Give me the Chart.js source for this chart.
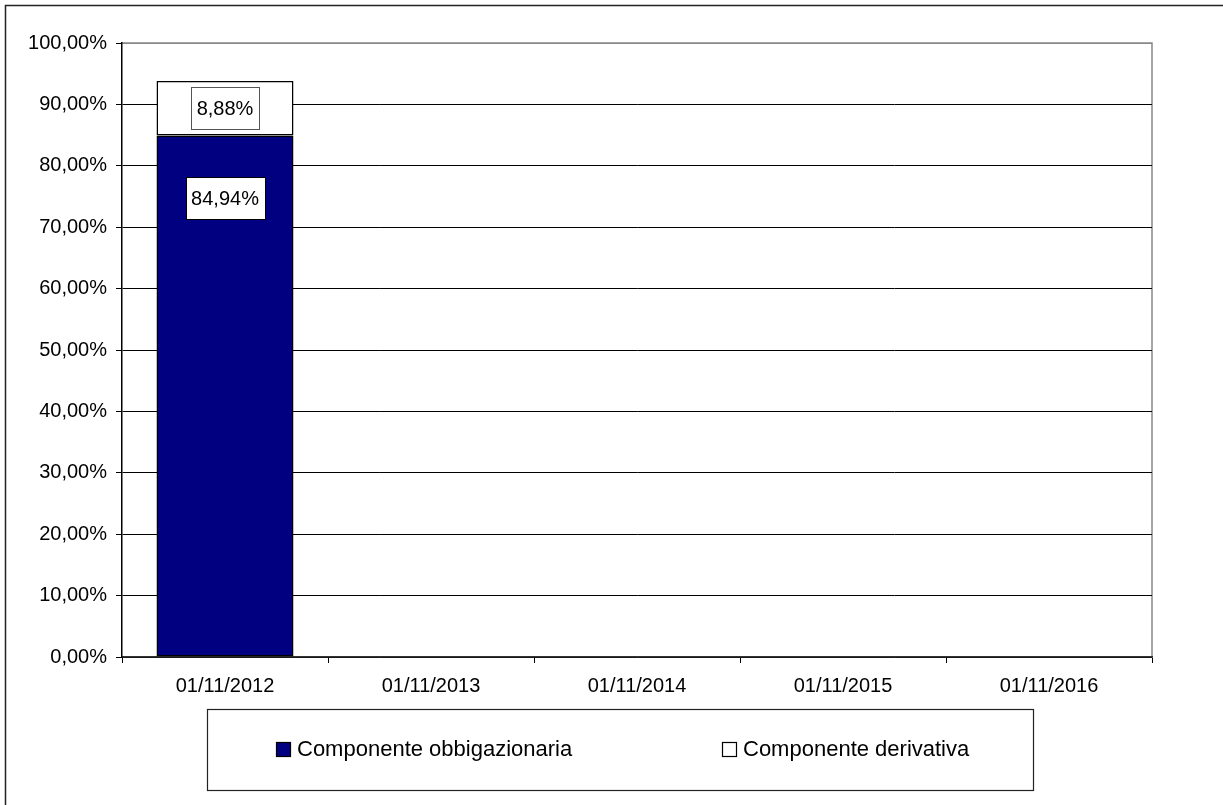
<!DOCTYPE html>
<html><head><meta charset="utf-8">
<script src="https://cdn.jsdelivr.net/npm/chart.js@4/dist/chart.umd.min.js"></script>
<style>html,body{margin:0;padding:0;background:#fff;}#wrap{width:1223px;height:805px;}</style>
</head><body><div id="wrap"><canvas id="c" width="1223" height="805"></canvas></div>
<script>
const categories = ['01/11/2012','01/11/2013','01/11/2014','01/11/2015','01/11/2016'];
const obbligazionaria = [84.94, null, null, null, null];
const derivativa = [8.88, null, null, null, null];
const seriesNames = ['Componente obbigazionaria','Componente derivativa'];
const FONT = '"Liberation Sans", Arial, sans-serif';

function fmt(v){ return v.toFixed(2).replace('.', ',') + '%'; }

const decor = {
  id:'decor',
  beforeDraw(chart){
    const ctx = chart.ctx;
    ctx.save();
    ctx.fillStyle='#fff'; ctx.fillRect(0,0,chart.width,chart.height);
    ctx.strokeStyle='#222'; ctx.lineWidth=1.5;
    ctx.beginPath(); ctx.moveTo(5.5,chart.height); ctx.lineTo(5.5,5.5); ctx.lineTo(chart.width,5.5); ctx.stroke();
    const a = chart.chartArea;
    ctx.strokeStyle='#888'; ctx.lineWidth=1.5;
    ctx.beginPath(); ctx.moveTo(a.left,a.top); ctx.lineTo(a.right,a.top); ctx.lineTo(a.right,a.bottom); ctx.stroke();
    ctx.restore();
  },
  afterDraw(chart){
    const ctx = chart.ctx;
    ctx.save();
    ctx.font = '20px ' + FONT;
    ctx.textBaseline='middle'; ctx.textAlign='center';
    chart.data.datasets.forEach((ds,di)=>{
      const meta = chart.getDatasetMeta(di);
      meta.data.forEach((bar,i)=>{
        const v = ds.data[i];
        if (v==null) return;
        let y;
        if (di===1) y = (bar.y + bar.base)/2;
        else y = bar.y + 63;
        const t = fmt(v);
        const w = Math.round(ctx.measureText(t).width + 11), h = 42;
        const x0 = Math.round(bar.x - w/2), y0 = Math.round(y - h/2);
        ctx.fillStyle='#fff'; ctx.fillRect(x0, y0, w, h);
        ctx.strokeStyle = di===1 ? '#555' : '#000'; ctx.lineWidth=1;
        ctx.strokeRect(x0+0.5, y0+0.5, w, h);
        ctx.fillStyle='#000'; ctx.fillText(t, bar.x, y+1);
      });
    });
    // legend box
    ctx.strokeStyle='#222'; ctx.lineWidth=1.2;
    ctx.strokeRect(207.5,709.5,826,81);
    const items = [{x:276, c:'#000080'},{x:722, c:'#ffffff'}];
    ctx.textAlign='left';
    ctx.font = '22px ' + FONT;
    items.forEach((it,k)=>{
      ctx.fillStyle=it.c; ctx.fillRect(it.x,742,14,14);
      ctx.strokeStyle='#000'; ctx.lineWidth=1.2; ctx.strokeRect(it.x+0.5,742.5,14,14);
      ctx.fillStyle='#000'; ctx.fillText(seriesNames[k], it.x+21, 750);
    });
    ctx.restore();
  }
};

new Chart(document.getElementById('c'), {
  type:'bar',
  data:{ labels:categories, datasets:[
    {label:seriesNames[0], data:obbligazionaria, backgroundColor:'#000080', borderColor:'#000', borderWidth:1.5, borderSkipped:false, categoryPercentage:1, barPercentage:0.665},
    {label:seriesNames[1], data:derivativa, backgroundColor:'#fff', borderColor:'#000', borderWidth:1.5, borderSkipped:false, categoryPercentage:1, barPercentage:0.665}
  ]},
  options:{
    responsive:false, animation:false, devicePixelRatio:1,
    layout:{padding:{left:0, top:43, right:71, bottom:0}},
    plugins:{legend:{display:false}, tooltip:{enabled:false}},
    scales:{
      x:{stacked:true, offset:true,
        grid:{offset:true, drawOnChartArea:false, color:'#000', tickLength:6, lineWidth:1},
        border:{color:'#333', width:1.5},
        ticks:{color:'#000', font:{family:FONT, size:20}, padding:11, maxRotation:0},
        afterFit(s){ s.height = 148; }
      },
      y:{stacked:true, min:0, max:100,
        grid:{color:(c)=> c.tick && c.tick.value===100 ? '#888' : '#000', tickColor:'#000', tickLength:6, lineWidth:1},
        border:{color:'#000', width:1.5},
        ticks:{stepSize:10, color:'#000', font:{family:FONT, size:20}, padding:9, callback:(v)=>fmt(v)},
        afterFit(s){ s.width = 122; }
      }
    }
  },
  plugins:[decor]
});
</script></body></html>
